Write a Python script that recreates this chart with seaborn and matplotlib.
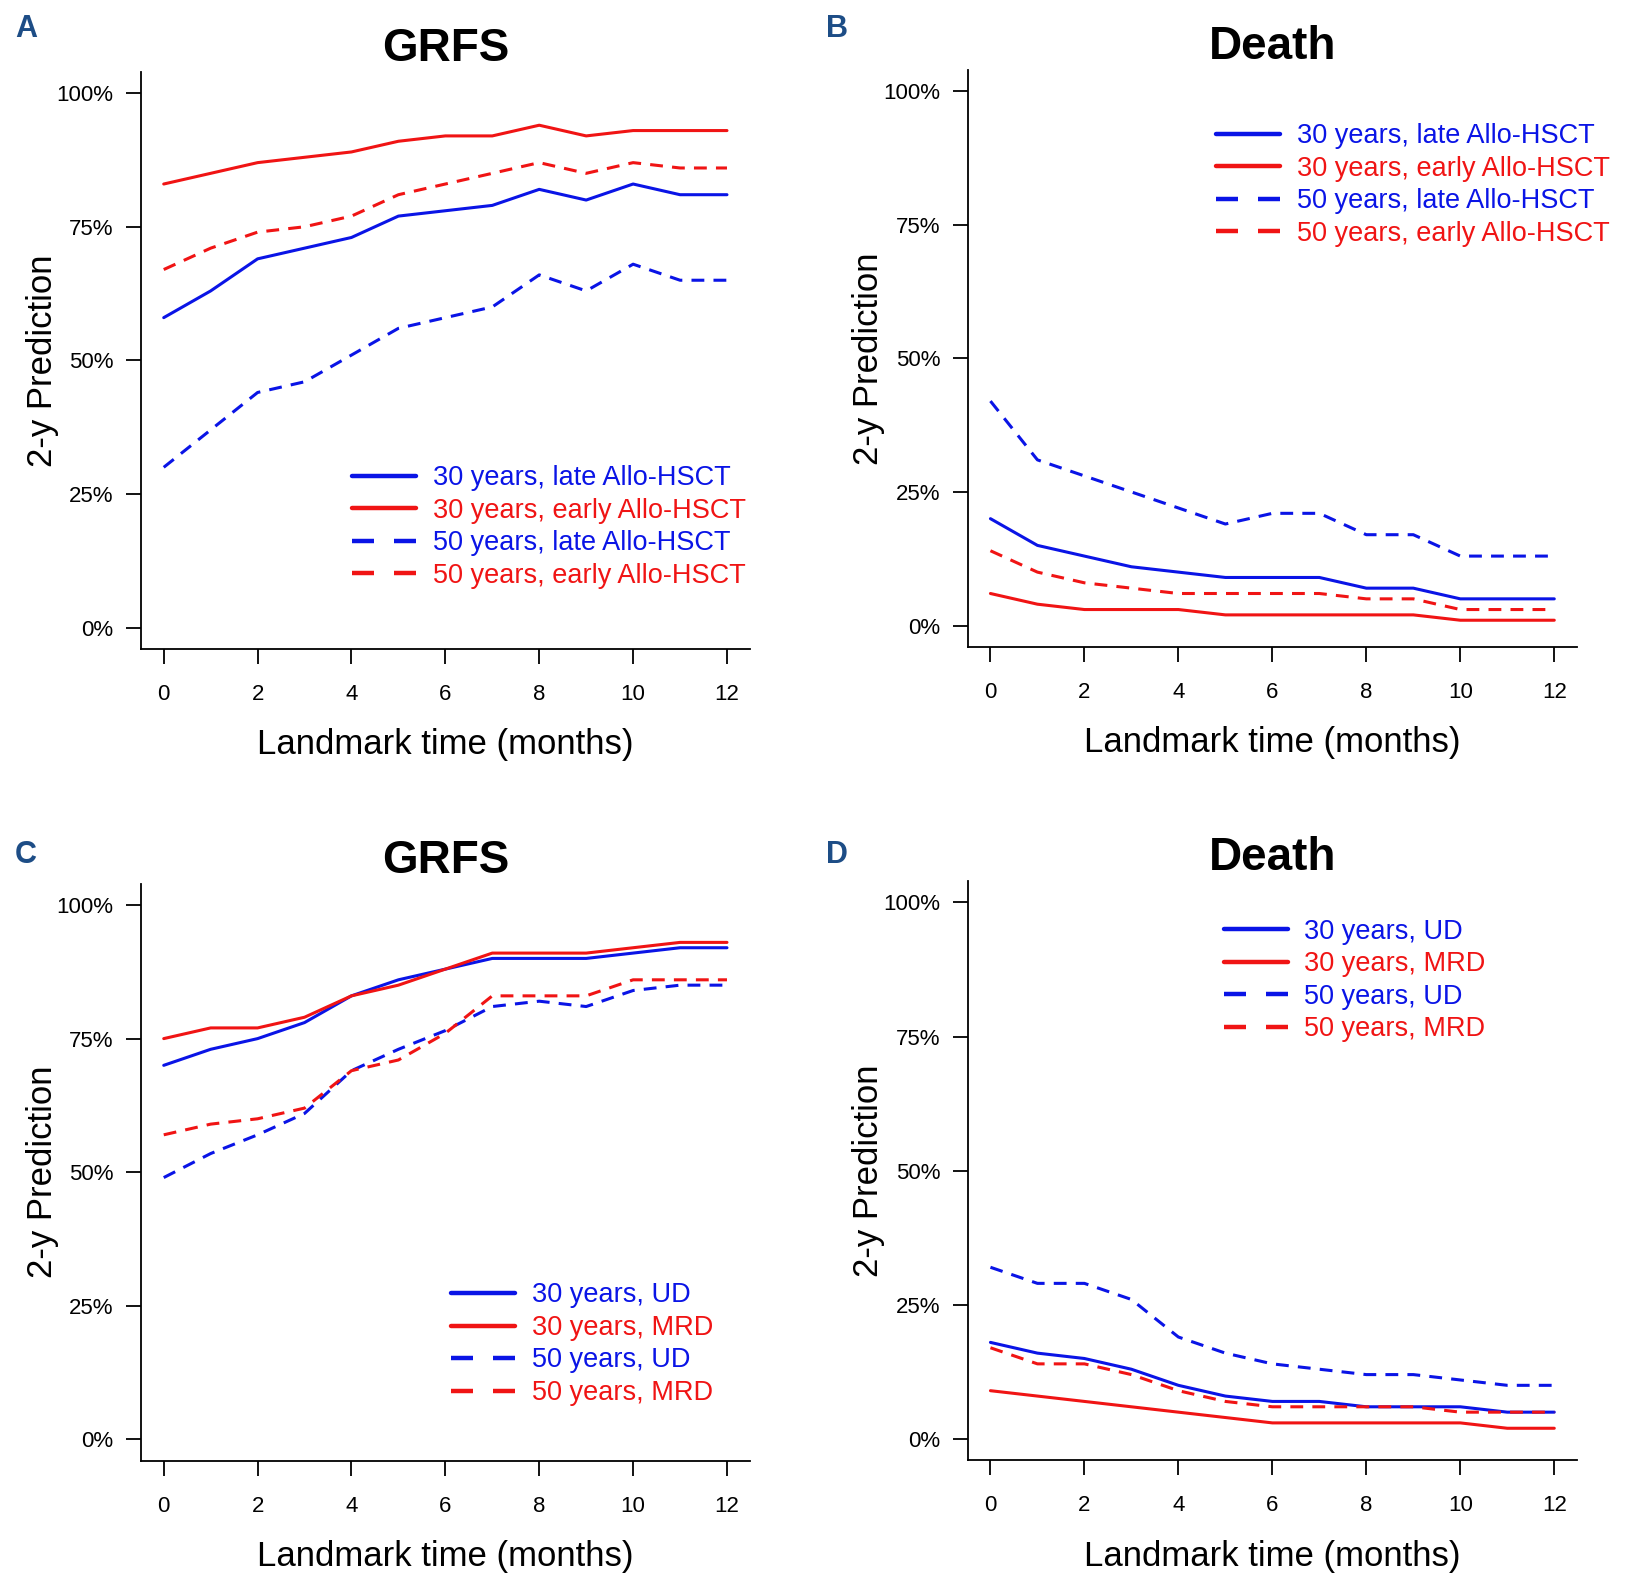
import matplotlib.pyplot as plt
import seaborn as sns
import pandas as pd
from matplotlib.lines import Line2D

# Landmark months
months = list(range(13))

# Panel A - GRFS, timing of Allo-HSCT
a_30_late = [58, 63, 69, 71, 73, 77, 78, 79, 82, 80, 83, 81, 81]
a_30_early = [83, 85, 87, 88, 89, 91, 92, 92, 94, 92, 93, 93, 93]
a_50_late = [30, 37, 44, 46, 51, 56, 58, 60, 66, 63, 68, 65, 65]
a_50_early = [67, 71, 74, 75, 77, 81, 83, 85, 87, 85, 87, 86, 86]

# Panel B - Death, timing of Allo-HSCT
b_30_late = [20, 15, 13, 11, 10, 9, 9, 9, 7, 7, 5, 5, 5]
b_30_early = [6, 4, 3, 3, 3, 2, 2, 2, 2, 2, 1, 1, 1]
b_50_late = [42, 31, 28, 25, 22, 19, 21, 21, 17, 17, 13, 13, 13]
b_50_early = [14, 10, 8, 7, 6, 6, 6, 6, 5, 5, 3, 3, 3]

# Panel C - GRFS, donor type
c_30_ud = [70, 73, 75, 78, 83, 86, 88, 90, 90, 90, 91, 92, 92]
c_30_mrd = [75, 77, 77, 79, 83, 85, 88, 91, 91, 91, 92, 93, 93]
c_50_ud = [49, 53.5, 57, 61, 69, 73, 76.5, 81, 82, 81, 84, 85, 85]
c_50_mrd = [57, 59, 60, 62, 69, 71, 76, 83, 83, 83, 86, 86, 86]

# Panel D - Death, donor type
d_30_ud = [18, 16, 15, 13, 10, 8, 7, 7, 6, 6, 6, 5, 5]
d_30_mrd = [9, 8, 7, 6, 5, 4, 3, 3, 3, 3, 3, 2, 2]
d_50_ud = [32, 29, 29, 26, 19, 16, 14, 13, 12, 12, 11, 10, 10]
d_50_mrd = [17, 14, 14, 12, 9, 7, 6, 6, 6, 6, 5, 5, 5]

timing_labels = ['30 years, late Allo-HSCT', '30 years, early Allo-HSCT',
                 '50 years, late Allo-HSCT', '50 years, early Allo-HSCT']
donor_labels = ['30 years, UD', '30 years, MRD', '50 years, UD', '50 years, MRD']

y_ticks = [0, 25, 50, 75, 100]
y_ticklabels = ['0%', '25%', '50%', '75%', '100%']
x_ticks = [0, 2, 4, 6, 8, 10, 12]

BLUE = '#0a14e6'
RED = '#f01414'
NAVY = '#1d4d86'
colors = [BLUE, RED, BLUE, RED]

sns.set_style('ticks')
plt.rcParams['font.family'] = ['Liberation Sans', 'DejaVu Sans']
for k in ['text.color', 'axes.labelcolor', 'xtick.color', 'ytick.color']:
    plt.rcParams[k] = 'black'

W, H = 1568.0, 1516.0  # layout measured in reference pixels


def make_df(series, labels):
    rows = []
    for vals, lab in zip(series, labels):
        for m, v in zip(months, vals):
            rows.append({'month': m, 'value': v, 'group': lab})
    return pd.DataFrame(rows)


def draw_panel(fig, rect, series, labels, title, letter, letter_xy, leg_xy):
    left, top, right, bottom = rect
    ax = fig.add_axes([left / W, 1 - bottom / H, (right - left) / W, (bottom - top) / H])
    df = make_df(series, labels)
    palette = dict(zip(labels, colors))
    dashes = {labels[0]: '', labels[1]: '', labels[2]: (4.2, 3.0), labels[3]: (4.2, 3.0)}
    sns.lineplot(data=df, x='month', y='value', hue='group', style='group',
                 hue_order=labels, style_order=labels, palette=palette,
                 dashes=dashes, linewidth=2.2, legend=False, ax=ax)

    ax.set_xlim(-0.48, 12.48)
    ax.set_ylim(-4, 104)
    ax.set_xticks(x_ticks)
    ax.set_yticks(y_ticks)
    ax.set_yticklabels(y_ticklabels)
    ax.tick_params(axis='both', direction='out', length=11, width=1.3,
                   labelsize=16, color='black')
    ax.tick_params(axis='x', pad=14)
    ax.tick_params(axis='y', pad=9)
    for s in ['top', 'right']:
        ax.spines[s].set_visible(False)
    for s in ['left', 'bottom']:
        ax.spines[s].set_linewidth(1.3)
        ax.spines[s].set_color('black')

    ax.set_xlabel('Landmark time (months)', fontsize=25)
    ax.set_ylabel('2-y Prediction', fontsize=25)
    ax.xaxis.set_label_coords(0.5, -0.166)
    ax.xaxis.label.set_va('center')
    ax.yaxis.set_label_coords(-0.163, 0.5)
    ax.yaxis.label.set_va('center')

    ax.text(0.5, 1.040, title, transform=ax.transAxes, ha='center', va='center',
            fontsize=33, fontweight='bold')
    fig.text(letter_xy[0] / W, 1 - letter_xy[1] / H, letter, ha='center', va='center',
             fontsize=22, fontweight='bold', color=NAVY)

    handles = [Line2D([], [], color=c, lw=3.2) for c in colors]
    handles[2].set_dashes((4.95, 4.5))
    handles[3].set_dashes((4.95, 4.5))
    ax.legend(handles, labels, loc='upper left', bbox_to_anchor=leg_xy,
              frameon=False, fontsize=19.5, handlelength=2.36, handletextpad=0.62,
              labelspacing=0.24, borderpad=0, borderaxespad=0, labelcolor=colors)
    return ax


fig = plt.figure(figsize=(16.4, 15.86), dpi=100)

draw_panel(fig, (135, 68.6, 716.6, 620.4), [a_30_late, a_30_early, a_50_late, a_50_early],
           timing_labels, 'GRFS', 'A', (25, 28), (0.347, 0.318))
draw_panel(fig, (925.4, 66.6, 1507.6, 618.4), [b_30_late, b_30_early, b_50_late, b_50_early],
           timing_labels, 'Death', 'B', (800, 28), (0.408, 0.907))
draw_panel(fig, (135, 844.6, 716.6, 1396.4), [c_30_ud, c_30_mrd, c_50_ud, c_50_mrd],
           donor_labels, 'GRFS', 'C', (25, 817), (0.509, 0.309))
draw_panel(fig, (925.4, 842.0, 1507.6, 1396.0), [d_30_ud, d_30_mrd, d_50_ud, d_50_mrd],
           donor_labels, 'Death', 'D', (800, 817), (0.420, 0.935))

fig.savefig('out.png', dpi=100, facecolor='white')
